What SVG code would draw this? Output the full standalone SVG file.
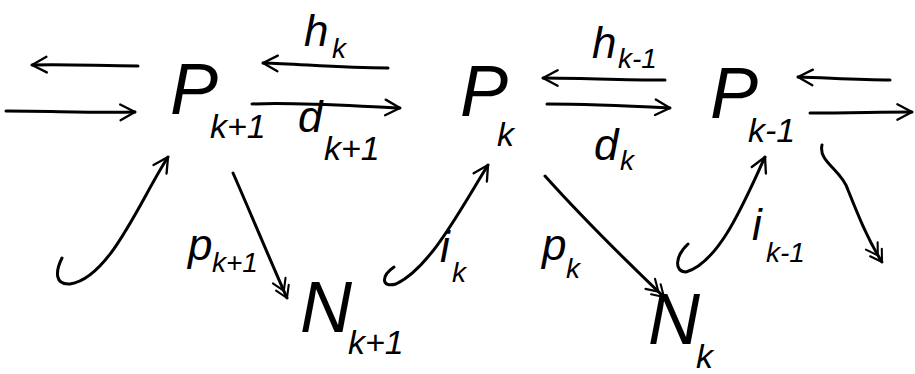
<svg xmlns="http://www.w3.org/2000/svg" width="915" height="374" viewBox="0 0 915 374">
<style>
.t{font-family:"Liberation Sans","DejaVu Sans",sans-serif;font-style:italic;fill:#000}
.big{font-size:72px}
.lbl{font-size:44px}
.sub{font-size:34px}
.ss{font-size:28px}
.c{fill:none;stroke:#000;stroke-width:3;stroke-linecap:round;stroke-linejoin:round}
</style>
<defs>
<marker id="a" viewBox="0 0 20 20" refX="18" refY="10" markerWidth="6.5" markerHeight="6.5" markerUnits="strokeWidth" orient="auto">
<path d="M3,2 L18,10 L3,18" fill="none" stroke="#000" stroke-width="2.4" stroke-linecap="round" stroke-linejoin="round"/>
</marker>
<marker id="d" viewBox="0 0 26 20" refX="24" refY="10" markerWidth="7.5" markerHeight="6" markerUnits="strokeWidth" orient="auto">
<path d="M2,2 L15,10 L2,18 M11,2 L24,10 L11,18" fill="none" stroke="#000" stroke-width="2.4" stroke-linecap="round" stroke-linejoin="round"/>
</marker>
</defs>
<g id="connectors">
<path class="c" d="M138,66 C100,66 70,64 32,65" marker-end="url(#a)"/>
<path class="c" d="M6,111 C50,111 95,113 135,112" marker-end="url(#a)"/>
<path class="c" d="M388,68 C340,68 300,64 263,63" marker-end="url(#a)"/>
<path class="c" d="M252,104 C300,102 350,106 400,108" marker-end="url(#a)"/>
<path class="c" d="M665,80 C620,80 580,78 543,78" marker-end="url(#a)"/>
<path class="c" d="M547,104 C590,104 630,106 670,108" marker-end="url(#a)"/>
<path class="c" d="M890,80 C860,80 830,78 798,77" marker-end="url(#a)"/>
<path class="c" d="M810,113 C850,113 880,112 912,112" marker-end="url(#a)"/>
<path class="c" d="M62,258 C55,272 55,285 70,284 C110,278 140,200 168,157" marker-end="url(#a)"/>
<path class="c" d="M233,173 C245,200 270,260 287,298" marker-end="url(#d)"/>
<path class="c" d="M394,267 C381,276 381,288 396,284 C430,268 460,210 488,165" marker-end="url(#a)"/>
<path class="c" d="M545,176 C580,215 620,255 664,297" marker-end="url(#d)"/>
<path class="c" d="M688,244 C675,256 674,272 686,272 C720,262 745,200 765,157" marker-end="url(#a)"/>
<path class="c" d="M822,145 C818,162 842,170 848,190 C858,215 868,240 882,262" marker-end="url(#d)"/>
</g>
<g id="P_k+1"><text class="t big" x="170" y="114">P<tspan class="sub" x="210" y="138">k+1</tspan></text></g>
<g id="P_k"><text class="t big" x="460" y="116">P<tspan class="sub" x="497" y="146">k</tspan></text></g>
<g id="P_k-1"><text class="t big" x="710" y="118">P<tspan class="sub" x="748" y="142">k-1</tspan></text></g>
<g id="N_k+1"><text class="t big" x="300" y="332">N<tspan class="sub" x="348" y="354">k+1</tspan></text></g>
<g id="N_k"><text class="t big" x="648" y="344">N<tspan class="sub" x="696" y="368">k</tspan></text></g>
<g id="labels">
<text class="t lbl" x="304" y="46">h<tspan class="ss" x="332" y="58">k</tspan></text>
<text class="t lbl" x="298" y="132">d<tspan class="sub" x="324" y="160">k+1</tspan></text>
<text class="t lbl" x="592" y="58">h<tspan class="ss" x="618" y="68">k-1</tspan></text>
<text class="t lbl" x="594" y="160">d<tspan class="ss" x="620" y="170">k</tspan></text>
<text class="t lbl" x="188" y="260">p<tspan class="ss" x="212" y="272">k+1</tspan></text>
<text class="t lbl" x="440" y="262">i<tspan class="ss" x="452" y="282">k</tspan></text>
<text class="t lbl" x="542" y="260">p<tspan class="ss" x="566" y="278">k</tspan></text>
<text class="t lbl" x="752" y="240">i<tspan class="ss" x="766" y="262">k-1</tspan></text>
</g>
</svg>
